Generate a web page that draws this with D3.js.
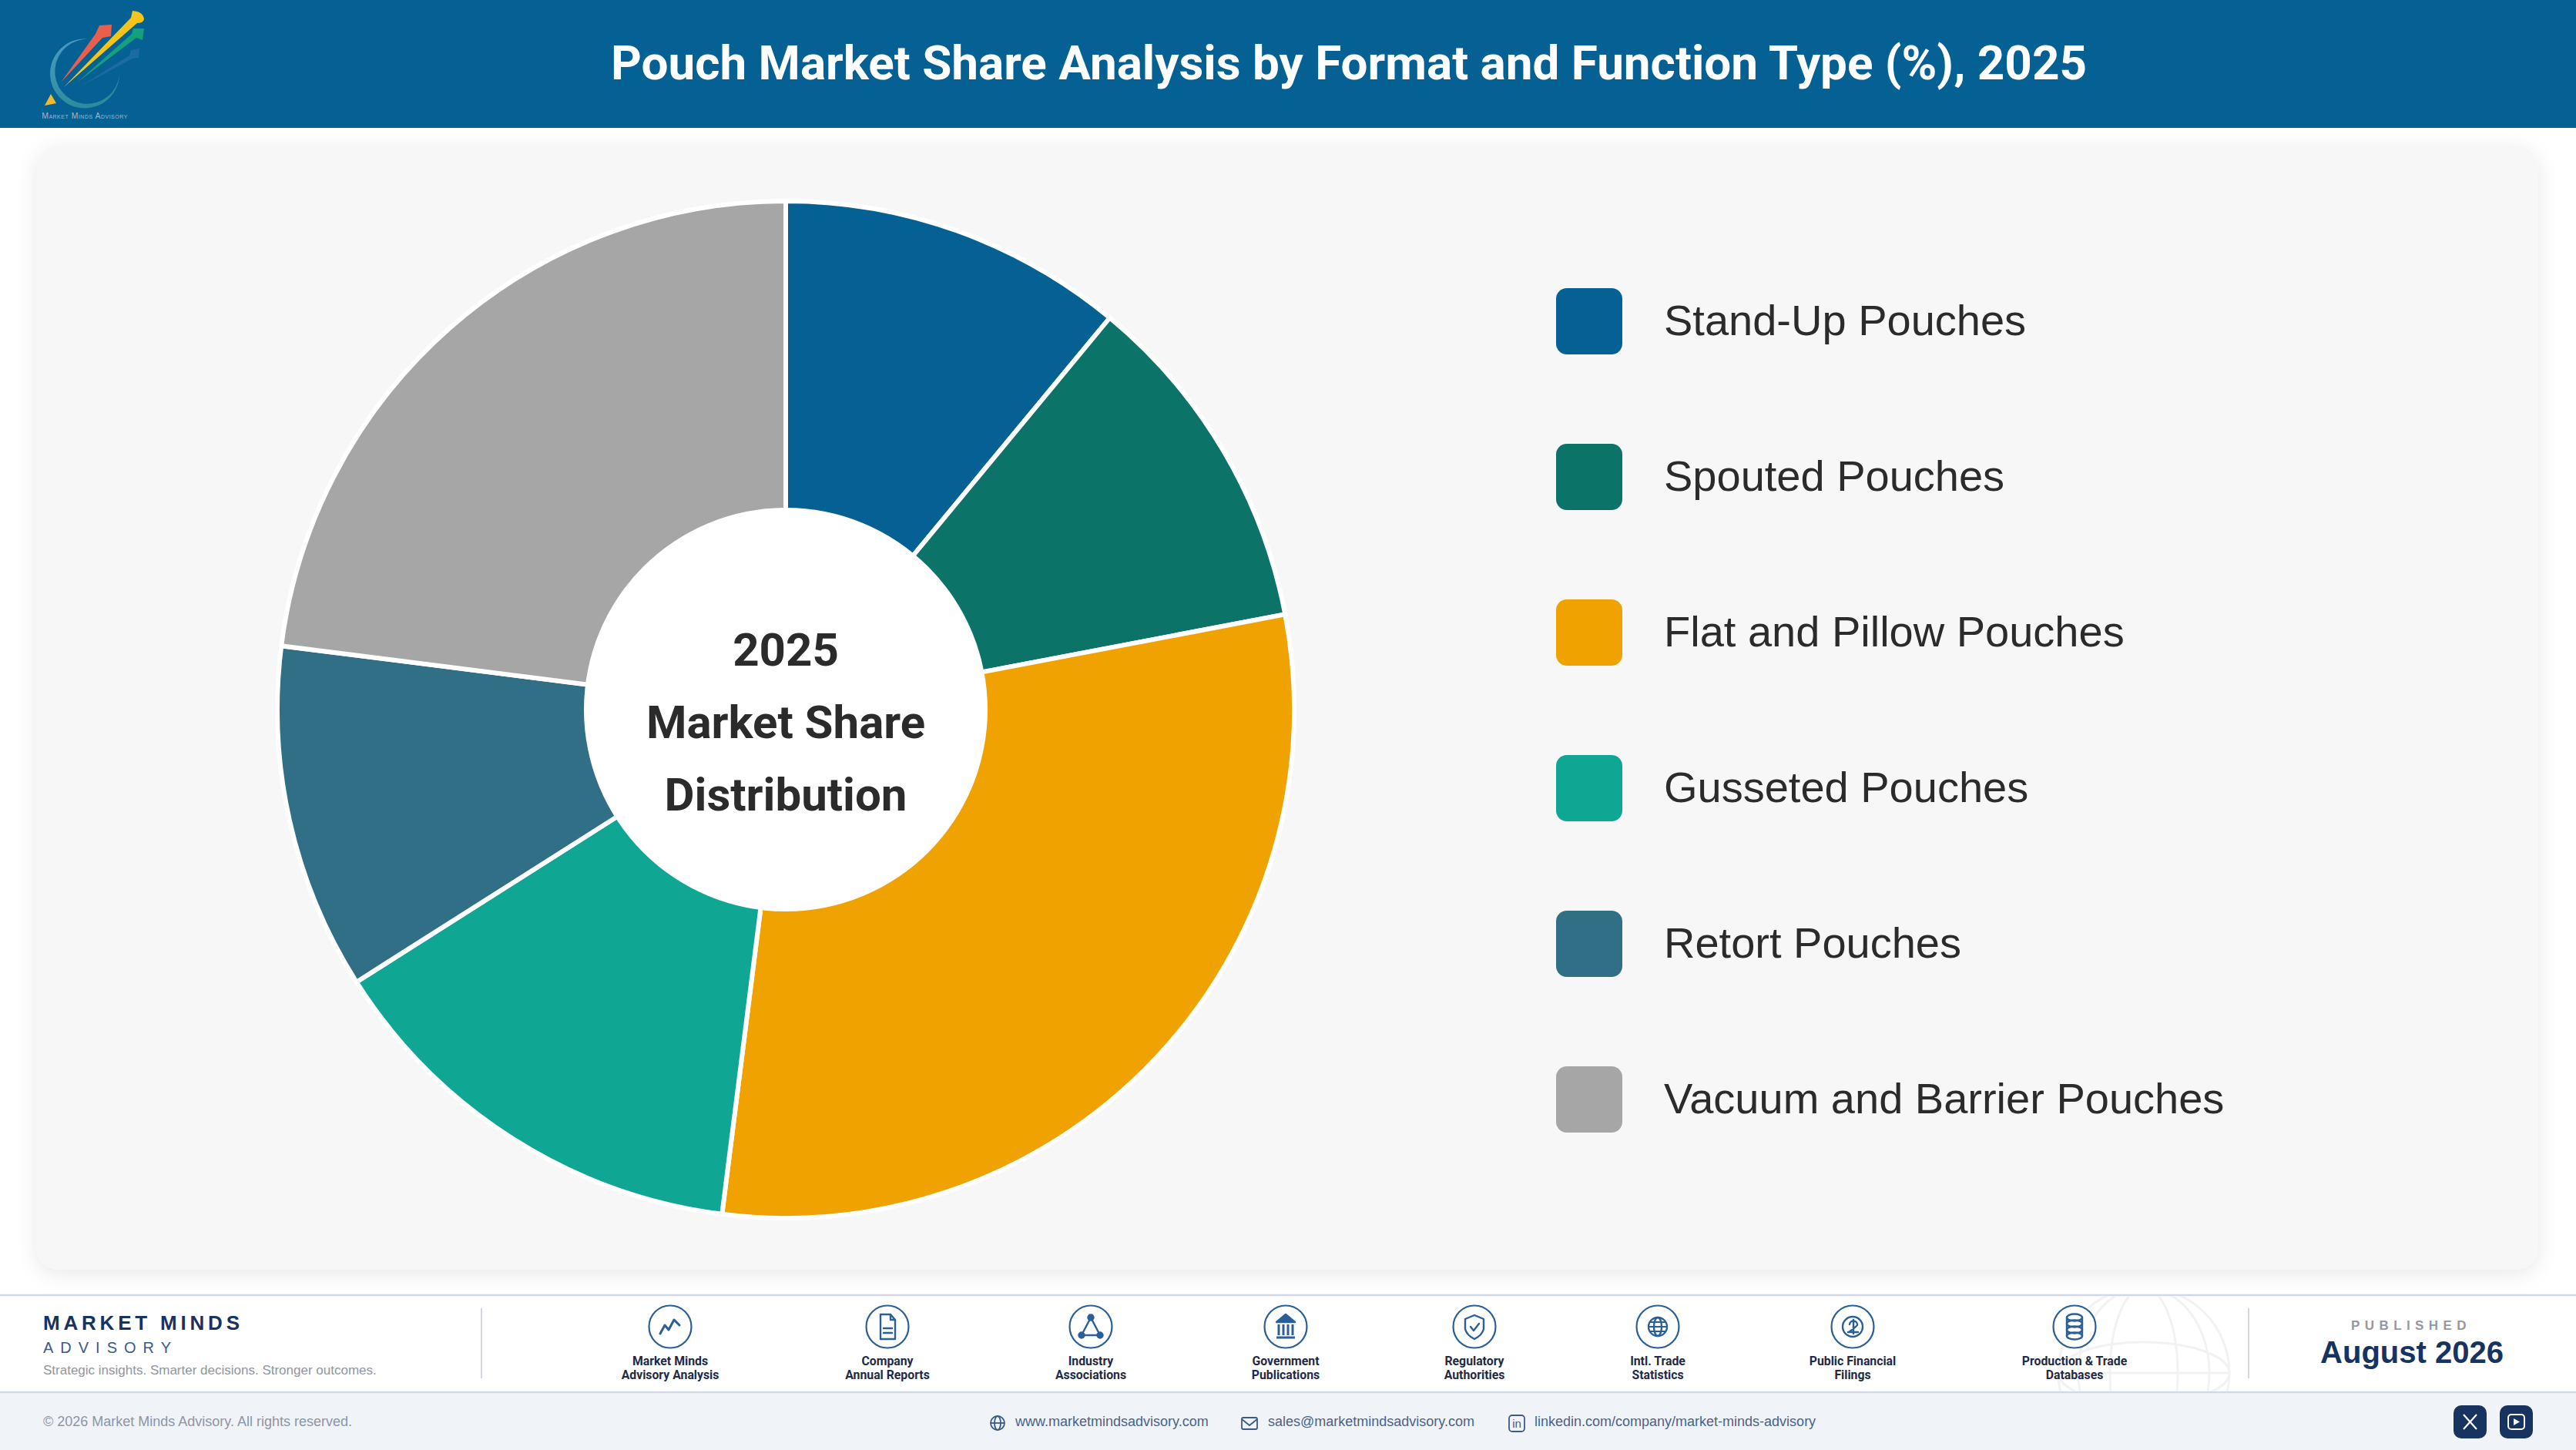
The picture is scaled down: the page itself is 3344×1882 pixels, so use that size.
<!DOCTYPE html>
<html>
<head>
<meta charset="utf-8">
<script src="https://cdn.jsdelivr.net/npm/d3@7"></script>
<style>
  html, body { margin: 0; padding: 0; background: #fff; }
  svg { display: block; }
  text { font-family: "Liberation Sans", Arial, sans-serif; }
</style>
</head>
<body>
<div id="grafica"></div>
<script>
// datos
const categories = ["Stand-Up Pouches", "Spouted Pouches", "Flat and Pillow Pouches", "Gusseted Pouches", "Retort Pouches", "Vacuum and Barrier Pouches"]
const shares = [11, 11, 30, 14, 11, 23]
const colors = ["#056094", "#0c7369", "#f0a300", "#10a694", "#316f86", "#a6a6a6"]
const centerLines = ["2025", "Market Share", "Distribution"]
const sources = [
    ["Market Minds", "Advisory Analysis"],
    ["Company", "Annual Reports"],
    ["Industry", "Associations"],
    ["Government", "Publications"],
    ["Regulatory", "Authorities"],
    ["Intl. Trade", "Statistics"],
    ["Public Financial", "Filings"],
    ["Production & Trade", "Databases"]
]
const sourceX = [870, 1152, 1416, 1669, 1914, 2152, 2405, 2693]
const contacts = ["www.marketmindsadvisory.com", "sales@marketmindsadvisory.com", "linkedin.com/company/market-minds-advisory"]
const contactX = [1318, 1646, 1992]

let width = 3344
let height = 1882
const navy = "#17335f"
const iconBlue = "#2a5f98"

let svg = d3.select("#grafica").append("svg").attr("width", width).attr("height", height)
let defs = svg.append("defs")

let sh = defs.append("filter").attr("id", "cardShadow")
    .attr("x", "-3%").attr("y", "-3%").attr("width", "106%").attr("height", "106%")
sh.append("feDropShadow").attr("dx", 0).attr("dy", 6).attr("stdDeviation", 13)
    .attr("flood-color", "#000").attr("flood-opacity", 0.09)

defs.append("clipPath").attr("id", "footClip").append("rect")
    .attr("x", 0).attr("y", 1682).attr("width", width).attr("height", 124)

let ringGrad = defs.append("linearGradient").attr("id", "ringGrad")
    .attr("x1", 0).attr("y1", 0).attr("x2", 0.4).attr("y2", 1)
ringGrad.append("stop").attr("offset", "0%").attr("stop-color", "#4a9cc4")
ringGrad.append("stop").attr("offset", "100%").attr("stop-color", "#2a8c9c")

//HEADER
svg.append("rect").attr("width", width).attr("height", 166).attr("fill", "#056094")
svg.append("text").attr("x", 1751).attr("y", 103)
    .attr("text-anchor", "middle")
    .style("font-family", "Roboto").style("font-weight", 700).style("font-size", "62px")
    .attr("fill", "#fff")
    .text("Pouch Market Share Analysis by Format and Function Type (%), 2025")

// logo
let logo = svg.append("g")
logo.append("path").attr("d", "M117 51 A45 45 0 1 0 155 97 A42 42 0 1 1 117 51 Z")
    .attr("fill", "url(#ringGrad)")
logo.append("path").attr("d", "M79 107 L124 44 L129 33 L145 32 L144 47 L133 49 Z").attr("fill", "#e8604c")
logo.append("path").attr("d", "M83 113 L170 23 L172 14 Q186 15 187 25 Q186 30 178 30 Z").attr("fill", "#f4c518")
logo.append("path").attr("d", "M100 107 L171 44 L173 37 L187 37 L185 52 L177 49 Z").attr("fill", "#14a07c")
logo.append("path").attr("d", "M103 113 L168 72 L170 65 L181 63 L180 75 L172 76 Z").attr("fill", "#2a74ac").attr("opacity", 0.6)
logo.append("path").attr("d", "M66 122 L58 137 L73 134 Z").attr("fill", "#f4b82c")
logo.append("text").attr("x", 110).attr("y", 154).attr("text-anchor", "middle")
    .style("font-size", "10.5px").style("font-variant", "small-caps").attr("letter-spacing", 0.5).attr("fill", "#9fb8cc")
    .text("Market Minds Advisory")

//CARD
svg.append("rect").attr("x", 47).attr("y", 188).attr("width", 3248).attr("height", 1460).attr("rx", 30)
    .attr("fill", "#f7f7f8").attr("filter", "url(#cardShadow)")

//GRAFICA
let radio = 660
let cx = 1020, cy = 921
let color = d3.scaleOrdinal().domain(categories).range(colors)
let datos = categories.map((name, i) => ({ name: name, value: shares[i] }))
let torta = d3.pie().sort(null).value(d => d.value)
let arcGen = d3.arc().innerRadius(0).outerRadius(radio)

let pie = svg.append("g").attr("transform", "translate(" + cx + "," + cy + ")")
pie.selectAll("path").data(torta(datos)).enter().append("path")
    .attr("d", arcGen)
    .attr("fill", d => color(d.data.name))
    .attr("stroke", "#fff")
    .attr("stroke-width", 6)
pie.append("circle").attr("r", 262).attr("fill", "#fff")

let centerY = d3.scalePoint().domain(centerLines).range([-79, 109])
pie.selectAll("text").data(centerLines).enter().append("text")
    .attr("y", d => centerY(d) + 22)
    .attr("text-anchor", "middle")
    .style("font-family", "Roboto").style("font-weight", 700).style("font-size", "60px")
    .attr("fill", "#2b2b2b")
    .text(d => d)

//LEYENDA
let legendY = d3.scalePoint().domain(categories).range([417, 1427])
let legend = svg.selectAll(".leg").data(categories).enter().append("g").attr("class", "leg")
    .attr("transform", d => "translate(2020," + legendY(d) + ")")
legend.append("rect").attr("y", -43).attr("width", 86).attr("height", 86).attr("rx", 14)
    .attr("fill", d => color(d))
legend.append("text").attr("x", 140).attr("y", 18)
    .style("font-size", "56px").attr("fill", "#2b2b2b")
    .text(d => d)

//FOOTER
svg.append("rect").attr("y", 1807).attr("width", width).attr("height", 75).attr("fill", "#f0f4f9")
svg.append("line").attr("x1", 0).attr("x2", width).attr("y1", 1681).attr("y2", 1681).attr("stroke", "#d3d8e6").attr("stroke-width", 2.5)
svg.append("line").attr("x1", 0).attr("x2", width).attr("y1", 1807).attr("y2", 1807).attr("stroke", "#d3d8e6").attr("stroke-width", 2.5)

// globo de fondo
let globe = svg.append("g").attr("clip-path", "url(#footClip)")
    .attr("fill", "none").attr("stroke", "#f2f2f4").attr("stroke-width", 3)
globe.append("circle").attr("cx", 2783).attr("cy", 1782).attr("r", 111)
globe.append("ellipse").attr("cx", 2783).attr("cy", 1782).attr("rx", 111).attr("ry", 40)
globe.append("line").attr("x1", 2672).attr("x2", 2894).attr("y1", 1782).attr("y2", 1782)
globe.append("ellipse").attr("cx", 2783).attr("cy", 1782).attr("rx", 44).attr("ry", 111)
globe.append("ellipse").attr("cx", 2783).attr("cy", 1782).attr("rx", 85).attr("ry", 111)

svg.append("text").attr("x", 56).attr("y", 1726)
    .style("font-size", "26px").style("font-weight", 700).attr("letter-spacing", 4.8).attr("fill", navy)
    .text("MARKET MINDS")
svg.append("text").attr("x", 56).attr("y", 1756)
    .style("font-size", "20px").attr("letter-spacing", 9).attr("fill", "#3d5a85")
    .text("ADVISORY")
svg.append("text").attr("x", 56).attr("y", 1784)
    .style("font-size", "17px").attr("fill", "#8f95a1")
    .text("Strategic insights. Smarter decisions. Stronger outcomes.")
svg.append("line").attr("x1", 625).attr("x2", 625).attr("y1", 1698).attr("y2", 1789).attr("stroke", "#d3d6dd").attr("stroke-width", 2)
svg.append("line").attr("x1", 2919).attr("x2", 2919).attr("y1", 1698).attr("y2", 1789).attr("stroke", "#d3d6dd").attr("stroke-width", 2)

// iconos de fuentes
function drawIcon(g, i) {
    let s = g.append("g").attr("fill", "none").attr("stroke", iconBlue).attr("stroke-width", 2.4)
        .attr("stroke-linejoin", "round").attr("stroke-linecap", "round")
    if (i == 0) s.append("path").attr("d", "M-13 9 L-7 -2 L-2 4 L5 -9 L12 -2").attr("stroke-width", 3)
    if (i == 1) {
        s.append("path").attr("d", "M-9 -16 H4 L10 -9 V16 H-9 Z M4 -16 V-9 H10")
        s.append("path").attr("d", "M-5 2 H6 M-5 8 H6")
    }
    if (i == 2) {
        s.append("path").attr("d", "M0 -12 L-12 11 H12 Z")
        s.selectAll("circle").data([[0, -12], [-12, 11], [12, 11]]).enter().append("circle")
            .attr("cx", d => d[0]).attr("cy", d => d[1]).attr("r", 3.5).attr("fill", iconBlue)
    }
    if (i == 3) {
        s.append("path").attr("d", "M0 -16 L-12 -6 H12 Z").attr("fill", iconBlue)
        s.append("path").attr("d", "M-9 -3 V11 M-3 -3 V11 M3 -3 V11 M9 -3 V11 M-12 14 H12").attr("stroke-width", 3).attr("stroke-linecap", "butt")
    }
    if (i == 4) {
        s.append("path").attr("d", "M0 -15 L12 -10 V3 Q10 11 0 16 Q-10 11 -12 3 V-10 Z")
        s.append("path").attr("d", "M-5 0 L-1 5 L6 -4")
    }
    if (i == 5) {
        s.append("circle").attr("r", 12)
        s.append("ellipse").attr("rx", 5).attr("ry", 12)
        s.append("path").attr("d", "M-12 0 H12 M-10 -6 H10 M-10 6 H10").attr("stroke-width", 1.8)
    }
    if (i == 6) {
        s.append("circle").attr("r", 13)
        s.append("path").attr("d", "M6 -2 A5 5 0 0 0 -4 -3 M1 -9 V9 M-6 7 H7 M-5 7 Q2 2 5 -1")
    }
    if (i == 7) {
        s.append("ellipse").attr("cy", -12).attr("rx", 10).attr("ry", 4.5)
        s.append("ellipse").attr("cy", -4).attr("rx", 10).attr("ry", 4.5)
        s.append("ellipse").attr("cy", 4).attr("rx", 10).attr("ry", 4.5)
        s.append("ellipse").attr("cy", 12).attr("rx", 10).attr("ry", 4.5)
        s.append("path").attr("d", "M-10 -12 V12 M10 -12 V12")
    }
}

let src = svg.selectAll(".src").data(sources).enter().append("g").attr("class", "src")
    .attr("transform", (d, i) => "translate(" + sourceX[i] + ",0)")
src.append("circle").attr("cy", 1722).attr("r", 27.5)
    .attr("fill", "#fff").attr("stroke", iconBlue).attr("stroke-width", 2.2)
src.each(function (d, i) {
    let g = d3.select(this).append("g").attr("transform", "translate(0,1722)")
    drawIcon(g, i)
})
src.selectAll("text").data(d => d).enter().append("text")
    .attr("y", (d, i) => 1772 + i * 18)
    .attr("text-anchor", "middle")
    .style("font-family", "Roboto").style("font-weight", 700).style("font-size", "15.8px")
    .attr("fill", "#1f2a44")
    .text(d => d)

// publicado
svg.append("text").attr("x", 3130).attr("y", 1726).attr("text-anchor", "middle")
    .style("font-size", "17px").style("font-weight", 700).attr("letter-spacing", 6.4).attr("fill", "#9498a3")
    .text("PUBLISHED")
svg.append("text").attr("x", 3131).attr("y", 1769).attr("text-anchor", "middle")
    .style("font-size", "40px").style("font-weight", 700).attr("fill", navy)
    .text("August 2026")

// barra inferior
svg.append("text").attr("x", 56).attr("y", 1851)
    .style("font-size", "18px").attr("fill", "#8e95a5")
    .text("\u00a9 2026 Market Minds Advisory. All rights reserved.")

svg.selectAll(".contact").data(contacts).enter().append("text").attr("class", "contact")
    .attr("x", (d, i) => contactX[i]).attr("y", 1851)
    .style("font-size", "18px").attr("fill", "#4a6288")
    .text(d => d)

let ci = svg.append("g").attr("fill", "none").attr("stroke", "#3c5a86").attr("stroke-width", 1.8)
ci.append("circle").attr("cx", 1295).attr("cy", 1847).attr("r", 9)
ci.append("ellipse").attr("cx", 1295).attr("cy", 1847).attr("rx", 4).attr("ry", 9)
ci.append("path").attr("d", "M1286 1847 H1304")
ci.append("rect").attr("x", 1612).attr("y", 1840).attr("width", 20).attr("height", 15).attr("rx", 2)
ci.append("path").attr("d", "M1612 1842 L1622 1850 L1632 1842")
ci.append("rect").attr("x", 1959).attr("y", 1837).attr("width", 20).attr("height", 21).attr("rx", 4)
ci.append("text").attr("x", 1969).attr("y", 1853).attr("text-anchor", "middle")
    .attr("stroke", "none").attr("fill", "#3c5a86").style("font-size", "15px").text("in")

svg.append("rect").attr("x", 3185).attr("y", 1824).attr("width", 43).attr("height", 43).attr("rx", 10).attr("fill", navy)
svg.append("rect").attr("x", 3245).attr("y", 1824).attr("width", 43).attr("height", 43).attr("rx", 10).attr("fill", navy)
svg.append("path").attr("d", "M3198 1836 L3215 1855 M3215 1836 L3198 1855").attr("stroke", "#fff").attr("stroke-width", 2.2)
svg.append("rect").attr("x", 3256).attr("y", 1836).attr("width", 21).attr("height", 19).attr("rx", 4)
    .attr("fill", "none").attr("stroke", "#fff").attr("stroke-width", 2)
svg.append("path").attr("d", "M3263 1841 L3271 1845.5 L3263 1850 Z").attr("fill", "#fff")
</script>
</body>
</html>
